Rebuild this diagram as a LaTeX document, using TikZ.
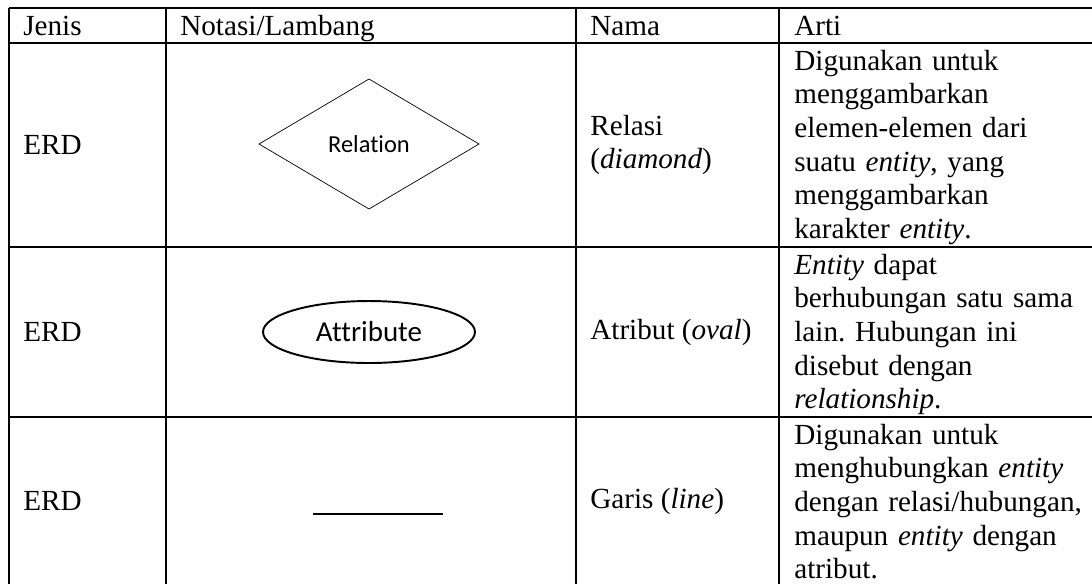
\documentclass[tikz,border=0pt]{standalone}
\usepackage{fontspec}
\setmainfont{Liberation Serif}
\newfontfamily\calibri[Ligatures=NoCommon]{Carlito}
\frenchspacing

\begin{document}
\begin{tikzpicture}[x=0.02cm,y=-0.02cm,
    cell/.style={anchor=west,inner sep=0pt,font=\fontsize{16.6}{19.1}\selectfont},
    para/.style={anchor=north west,inner sep=0pt,align=left,text width=6cm,font=\fontsize{16.6}{19.1}\selectfont},
    grid/.style={line width=.7pt}]
\useasboundingbox (0,0) rectangle (1092,583);

% table lines
\draw[grid](9,8) -- (1100,8);
\draw[grid](9,43) -- (1100,43);
\draw[grid](9,247) -- (1100,247);
\draw[grid](9,417) -- (1100,417);
\draw[grid](9,8) -- (9,590);
\draw[grid](166,8) -- (166,590);
\draw[grid](576,8) -- (576,590);
\draw[grid](779,8) -- (779,590);

% header
\node[cell,anchor=base west] (jenis) at (23,35) {Jenis};
\node[cell,anchor=base west] (notasi) at (180,35) {Notasi/Lambang};
\node[cell,anchor=base west] (nama) at (590,35) {Nama};
\node[cell,anchor=base west] (arti) at (794,35) {Arti};

% relasi
\node[cell] (erdRel) at (23,145) {ERD};
\draw[line width=.4pt](259,144) -- (369,79) -- (479,144) -- (369,209) -- cycle;
\node[font=\calibri\fontsize{13.9}{16}\selectfont] (relation) at (369,144) 
    {Relation};
\node[cell,align=left] (namaRel) at (590,145) 
    {Relasi\\(\textit{diamond})};
\node[para] (artiRel) at (794,46.5) 
    {\strut Digunakan untuk\\menggambarkan\\elemen-elemen dari\\suatu \textit{entity}, yang\\menggambarkan\\karakter \textit{entity}.};

% atribut
\node[cell] (erdAtr) at (23,332) {ERD};
\draw[line width=1.1pt](369,332) ellipse [x radius=2.12cm, y radius=0.62cm];
\node[font=\calibri\fontsize{16.5}{19}\selectfont] (attribute) at (369,332) 
    {Attribute};
\node[cell] (namaAtr) at (590,332) 
    {Atribut (\textit{oval})};
\node[para] (artiAtr) at (794,250.5) 
    {\strut\textit{Entity} dapat\\berhubungan satu sama\\lain. Hubungan ini\\disebut dengan\\\textit{relationship}.};

% garis
\node[cell] (erdGrs) at (23,501) {ERD};
\draw[line width=.6pt](313,514) -- (443,514);
\node[cell] (namaGrs) at (590,501) 
    {Garis (\textit{line})};
\node[para] (artiGrs) at (794,420.5) 
    {\strut Digunakan untuk\\menghubungkan \textit{entity}\\dengan relasi/hubungan,\\maupun \textit{entity} dengan\\atribut.};
\end{tikzpicture}
\end{document}
